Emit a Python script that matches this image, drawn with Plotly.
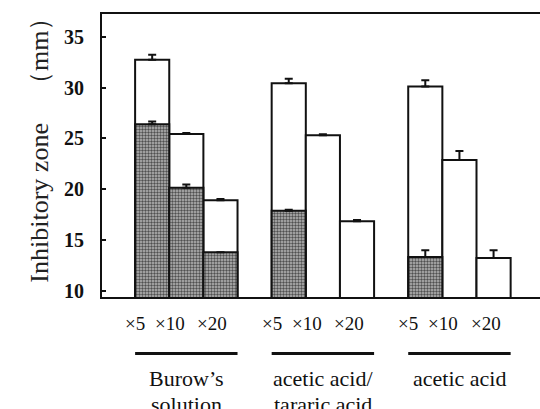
import plotly.graph_objects as go

groups = ["Burow\u2019s<br>solution", "acetic acid/<br>tararic acid", "acetic acid"]
dilutions = ["\u00d75", "\u00d710", "\u00d720"]

total_zone = [32.76, 25.44, 18.92, 30.45, 25.32, 16.85, 30.12, 22.88, 13.22]
total_err = [0.50, 0.10, 0.10, 0.43, 0.10, 0.10, 0.63, 0.88, 0.76]
inner_zone = [26.40, 20.14, 13.78, 17.87, None, None, 13.32, None, None]
inner_err = [0.26, 0.33, 0.0, 0.10, 0, 0, 0.66, 0, 0]

ytick_vals = [10, 15, 20, 25, 30, 35]

# layout-only pixel offsets of dilution labels relative to their bars
label_shift_px = [-17, -16, -8]

n_d = len(dilutions)
xpos = [g * (n_d + 1) + d for g in range(len(groups)) for d in range(n_d)]

FONT = "Times New Roman, Liberation Serif, serif"
fig = go.Figure()

fig.add_trace(go.Bar(
    x=xpos, y=total_zone, width=1.0,
    marker=dict(color="white", line=dict(color="#111", width=2)),
    error_y=dict(type="data", symmetric=False, array=total_err,
                 arrayminus=[0] * len(total_err), color="#111",
                 thickness=2, width=4),
    showlegend=False, hoverinfo="skip",
))
fig.add_trace(go.Bar(
    x=xpos, y=inner_zone, width=1.0,
    marker=dict(color="#9a9a9a", line=dict(color="#111", width=2),
                pattern=dict(shape=".", fgcolor="#505050", bgcolor="#b8b8b8",
                             size=3, solidity=0.5, fillmode="replace")),
    error_y=dict(type="data", symmetric=False, array=inner_err,
                 arrayminus=[0] * len(inner_err), color="#111",
                 thickness=2, width=4),
    showlegend=False, hoverinfo="skip",
))

fig.update_layout(
    width=540, height=409,
    margin=dict(l=102, r=0, t=14, b=112),
    paper_bgcolor="white", plot_bgcolor="white",
    barmode="overlay",
    font=dict(family=FONT, color="#111"),
    xaxis=dict(range=[-1.47, 11.36], showticklabels=False,
               showline=True, linecolor="#111", linewidth=2, mirror=True,
               ticks="", showgrid=False, zeroline=False),
    yaxis=dict(range=[9.37, 37.27], tickvals=ytick_vals,
               showline=True, linecolor="#111", linewidth=2,
               ticks="inside", ticklen=4, tickwidth=2, tickcolor="#111",
               showgrid=False, zeroline=False,
               tickfont=dict(family=FONT, size=20, color="#111", weight="bold"),
               ticklabelstandoff=12),
)

fig.add_annotation(text="Inhibitory zone\u3000\uff08mm\uff09", textangle=-90,
                   xref="paper", yref="paper", x=-0.18, y=(296.7 - 144) / 282.4,
                   yanchor="middle", showarrow=False,
                   font=dict(family=FONT, size=26, color="#222"))

for g, name in enumerate(groups):
    for d in range(n_d):
        fig.add_annotation(text=dilutions[d], xref="x", yref="paper",
                           x=g * (n_d + 1) + d, xshift=label_shift_px[d],
                           y=(296.7 - 323.5) / 282.4, yanchor="middle",
                           showarrow=False,
                           font=dict(family=FONT, size=19, color="#111"))
    x0 = g * (n_d + 1) - 0.5
    x1 = g * (n_d + 1) + n_d - 0.5
    fig.add_shape(type="line", xref="x", yref="paper", x0=x0, x1=x1,
                  y0=-0.2, y1=-0.2, line=dict(color="#111", width=3))
    lines = name.split("<br>")
    for i, ln in enumerate(lines):
        ypx = 378 + 26 * i
        fig.add_annotation(text=ln, xref="x", yref="paper",
                           x=(x0 + x1) / 2, y=(296.7 - ypx) / 282.4,
                           yanchor="middle", showarrow=False,
                           font=dict(family=FONT, size=22, color="#111"))

fig.write_html("out.html", config={"displayModeBar": False},
               post_script="document.body.style.margin='0';document.body.style.overflow='hidden';")
